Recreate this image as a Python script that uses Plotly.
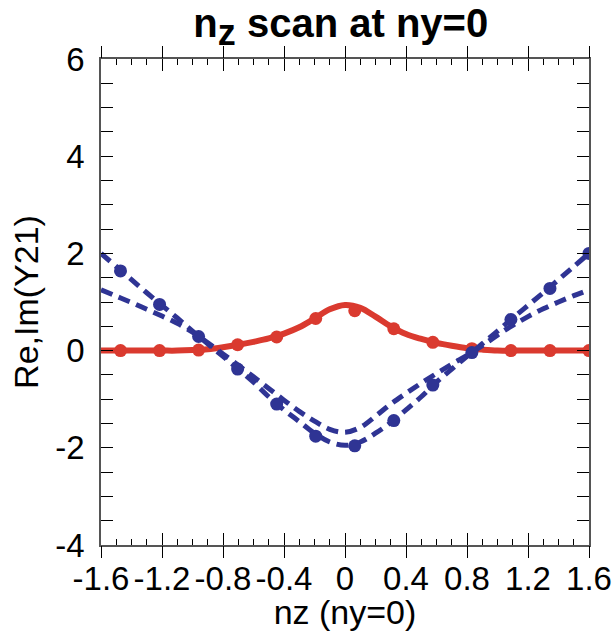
import plotly.graph_objects as go

# ---- data ----
curve_x = [-1.6, -1.5, -1.4, -1.3, -1.2, -1.1, -1.0, -0.9, -0.8, -0.7, -0.6, -0.5, -0.4,
           -0.3, -0.2, -0.1, 0.0, 0.1, 0.2, 0.3, 0.4, 0.5, 0.6, 0.7, 0.8, 0.9, 1.0,
           1.1, 1.2, 1.3, 1.4, 1.5, 1.6]
re_curve = [0.0, 0.0, 0.0, 0.0, 0.0, 0.0, 0.01, 0.03, 0.07, 0.12, 0.18, 0.25, 0.35,
            0.48, 0.66, 0.85, 0.94, 0.88, 0.70, 0.50, 0.34, 0.24, 0.16, 0.10, 0.05, 0.02, 0.0,
            0.0, 0.0, 0.0, 0.0, 0.0, 0.0]
im_curve_a = [2.00, 1.73, 1.46, 1.19, 0.93, 0.67, 0.40, 0.14, -0.12, -0.38, -0.65, -0.95, -1.22,
              -1.46, -1.70, -1.88, -1.95, -1.88, -1.70, -1.48, -1.22, -0.95, -0.65, -0.38, -0.12, 0.14, 0.40,
              0.67, 0.93, 1.19, 1.46, 1.73, 2.00]
im_curve_b = [1.25, 1.12, 0.99, 0.85, 0.71, 0.56, 0.38, 0.16, -0.07, -0.30, -0.54, -0.78, -1.02,
              -1.25, -1.45, -1.62, -1.68, -1.58, -1.35, -1.10, -0.88, -0.67, -0.47, -0.28, -0.10, 0.10, 0.32,
              0.52, 0.70, 0.86, 1.00, 1.13, 1.25]

pts_x = [-1.472, -1.216, -0.96, -0.704, -0.448, -0.192, 0.064, 0.32, 0.576, 0.832, 1.088, 1.344, 1.6]
re_pts = [0.0, 0.0, 0.01, 0.12, 0.28, 0.66, 0.82, 0.45, 0.17, 0.04, 0.0, 0.0, 0.0]
im_pts = [1.64, 0.95, 0.29, -0.38, -1.10, -1.76, -1.96, -1.44, -0.71, -0.04, 0.64, 1.28, 2.00]

x_tickvals = [-1.6, -1.2, -0.8, -0.4, 0, 0.4, 0.8, 1.2, 1.6]
x_ticktext = ["-1.6", "-1.2", "-0.8", "-0.4", "0", "0.4", "0.8", "1.2", "1.6"]
y_tickvals = [-4, -2, 0, 2, 4, 6]
y_ticktext = ["-4", "-2", "0", "2", "4", "6"]

RED = "#da3a2f"
BLUE = "#2f3494"
FONT = "Liberation Sans, Arial, Helvetica, sans-serif"

fig = go.Figure()
fig.add_trace(go.Scatter(x=curve_x, y=re_curve, mode="lines", line=dict(color=RED, width=6, shape="spline"),
                         hoverinfo="skip", showlegend=False))
fig.add_trace(go.Scatter(x=pts_x, y=re_pts, mode="markers", marker=dict(color=RED, size=13),
                         showlegend=False))
fig.add_trace(go.Scatter(x=curve_x, y=im_curve_a, mode="lines",
                         line=dict(color=BLUE, width=5, dash="12px,7px", shape="spline"),
                         hoverinfo="skip", showlegend=False))
fig.add_trace(go.Scatter(x=curve_x, y=im_curve_b, mode="lines",
                         line=dict(color=BLUE, width=5, dash="12px,7px", shape="spline"),
                         hoverinfo="skip", showlegend=False))
fig.add_trace(go.Scatter(x=pts_x, y=im_pts, mode="markers", marker=dict(color=BLUE, size=13),
                         showlegend=False))
# invisible trace to activate overlay axis (outer tick marks)
fig.add_trace(go.Scatter(x=[None], y=[None], xaxis="x2", showlegend=False, hoverinfo="skip"))

fig.update_layout(
    width=614, height=631,
    margin=dict(l=101, r=25, t=59, b=86, autoexpand=False),
    paper_bgcolor="white", plot_bgcolor="white",
    font=dict(family=FONT, color="black"),
    title=dict(text="<b>n<sub><span style='font-size:36px'>z</span></sub> scan at ny=0</b>",
               x=0.555, xanchor="center",
               y=0.964, yanchor="middle", yref="container",
               font=dict(size=40, family=FONT, color="black")),
    xaxis=dict(range=[-1.6, 1.6], tickmode="array", tickvals=x_tickvals, ticktext=x_ticktext,
               ticks="inside", ticklen=12, tickwidth=1.3, tickcolor="black",
               minor=dict(dtick=0.1, ticks="inside", ticklen=6, tickwidth=1, tickcolor="black"),
               showline=True, linecolor="#555", linewidth=1.5, mirror="allticks",
               showgrid=False, zeroline=False, automargin=False, ticklabelstandoff=4,
               ticklabeloverflow="allow",
               tickfont=dict(size=33), title=dict(text="nz (ny=0)", font=dict(size=34), standoff=0)),
    xaxis2=dict(range=[-1.6, 1.6], overlaying="x", side="bottom", anchor="y",
                tickmode="array", tickvals=x_tickvals, ticks="outside", ticklen=12, tickwidth=1.3,
                tickcolor="black", showticklabels=False, mirror="ticks", showline=False,
                showgrid=False, zeroline=False, automargin=False),
    yaxis=dict(range=[-4, 6], tickmode="array", tickvals=y_tickvals, ticktext=y_ticktext,
               ticks="inside", ticklen=12, tickwidth=1.3, tickcolor="black",
               minor=dict(dtick=0.5, ticks="inside", ticklen=7, tickwidth=1, tickcolor="black"),
               showline=True, linecolor="#555", linewidth=1.5, mirror="allticks",
               showgrid=False, zeroline=False, automargin=False, ticklabelstandoff=8,
               tickfont=dict(size=33), title=dict(text="Re,Im(Y21)", font=dict(size=34), standoff=6)),
)

# remove the default 8px page margin so the 614x631 figure fills the window exactly
fig.write_html("out.html", config={"displayModeBar": False},
               post_script="document.body.style.margin='0';document.body.style.overflow='hidden';")
